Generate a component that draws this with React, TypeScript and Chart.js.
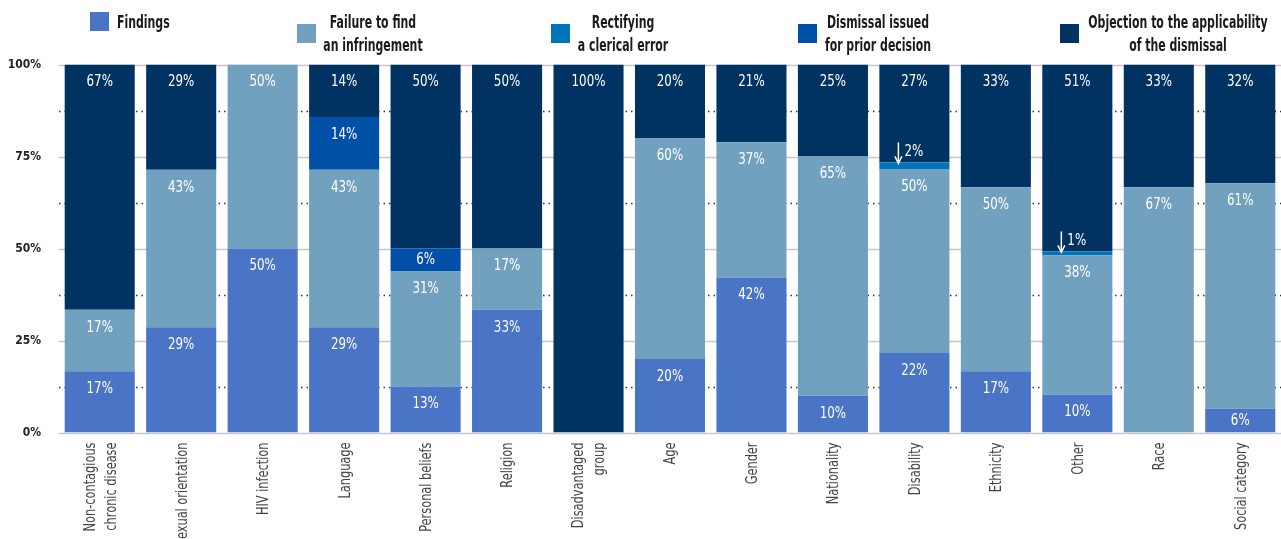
import React, { useEffect, useRef } from 'react';
import { Chart, registerables } from 'chart.js';
Chart.register(...registerables);

const FONT = '"DejaVu Sans Condensed", "Liberation Sans Narrow", "Noto Sans", sans-serif';

const categories: (string | string[])[] = [
  ['Non-contagious', 'chronic disease'], 'Sexual orientation', 'HIV infection', 'Language',
  'Personal beliefs', 'Religion', ['Disadvantaged', 'group'], 'Age', 'Gender', 'Nationality',
  'Disability', 'Ethnicity', 'Other', 'Race', 'Social category',
];
const findings = [16.67, 28.57, 50, 28.57, 12.5, 33.33, 0, 20, 42.1, 10, 21.6, 16.67, 10.3, 0, 6.45];
const failure = [16.67, 42.86, 50, 42.86, 31.25, 16.67, 0, 60, 36.8, 65, 50, 50, 37.8, 66.67, 61.3];
const rectifying = [0, 0, 0, 0, 0, 0, 0, 0, 0, 0, 1.8, 0, 1.1, 0, 0];
const dismissal = [0, 0, 0, 14.29, 6.25, 0, 0, 0, 0, 0, 0, 0, 0, 0, 0];
const objection = [66.66, 28.57, 0, 14.28, 50, 50, 100, 20, 21.1, 25, 26.6, 33.33, 50.8, 33.33, 32.25];
const yTicks = [0, 25, 50, 75, 100];
const dottedTicks = [12.5, 37.5, 62.5, 87.5];

const seriesNames = [
  ['Findings'],
  ['Failure to find', 'an infringement'],
  ['Rectifying', 'a clerical error'],
  ['Dismissal issued', 'for prior decision'],
  ['Objection to the applicability', 'of the dismissal'],
];
const colors = ['#4a74c5', '#72a1bf', '#0074bb', '#0050a8', '#003362'];

const gridPlugin = {
  id: 'customGrid',
  beforeDatasetsDraw(chart: any) {
    const { ctx, chartArea, scales } = chart;
    const y = scales.y;
    ctx.save();
    ctx.strokeStyle = '#c8c8c8';
    ctx.lineWidth = 1.5;
    yTicks.forEach((v) => {
      const py = Math.round(y.getPixelForValue(v)) + 0.5;
      ctx.beginPath();
      ctx.moveTo(chartArea.left, py);
      ctx.lineTo(chartArea.right, py);
      ctx.stroke();
    });
    ctx.strokeStyle = '#333';
    ctx.lineWidth = 1.5;
    ctx.setLineDash([1.5, 4]);
    dottedTicks.forEach((v) => {
      const py = Math.round(y.getPixelForValue(v)) + 0.5;
      ctx.beginPath();
      ctx.moveTo(chartArea.left, py);
      ctx.lineTo(chartArea.right, py);
      ctx.stroke();
    });
    ctx.restore();
  },
};

const labelPlugin = {
  id: 'segLabels',
  afterDatasetsDraw(chart: any) {
    const { ctx } = chart;
    ctx.save();
    ctx.font = `15px ${FONT}`;
    ctx.fillStyle = '#ffffff';
    const sq = 0.88;
    chart.data.datasets.forEach((ds: any, di: number) => {
      const meta = chart.getDatasetMeta(di);
      meta.data.forEach((bar: any, i: number) => {
        const v = ds.data[i];
        if (!v) return;
        const top = Math.min(bar.y, bar.base);
        const bottom = Math.max(bar.y, bar.base);
        const txt = Math.round(v) + '%';
        if (v < 3) {
          const ax = bar.x - 16;
          ctx.strokeStyle = '#ffffff';
          ctx.lineWidth = 1.5;
          ctx.beginPath();
          ctx.moveTo(ax, top - 20);
          ctx.lineTo(ax, top);
          ctx.stroke();
          ctx.beginPath();
          ctx.moveTo(ax - 3.5, top - 6);
          ctx.lineTo(ax, top + 1);
          ctx.lineTo(ax + 3.5, top - 6);
          ctx.stroke();
          ctx.save();
          ctx.translate(ax + 6, top - 10);
          ctx.scale(sq, 1);
          ctx.textAlign = 'left';
          ctx.textBaseline = 'middle';
          ctx.fillText(txt, 0, 0);
          ctx.restore();
          return;
        }
        const ly = Math.min(top + 18, (top + bottom) / 2);
        ctx.save();
        ctx.translate(bar.x, ly);
        ctx.scale(sq, 1);
        ctx.textAlign = 'center';
        ctx.textBaseline = 'middle';
        ctx.fillText(txt, 0, 0);
        ctx.restore();
      });
    });
    ctx.restore();
  },
};

// x-axis category labels, drawn rotated at the tick positions of the x scale
const xLabelPlugin = {
  id: 'xLabels',
  afterDraw(chart: any) {
    const { ctx, chartArea, scales } = chart;
    const xs = scales.x;
    ctx.save();
    ctx.font = `300 15px ${FONT}`;
    ctx.fillStyle = '#444';
    ctx.textAlign = 'right';
    ctx.textBaseline = 'middle';
    const squeeze = 89 / ctx.measureText('Non-contagious').width;
    const top = chartArea.bottom + 10;
    (chart.data.labels as any[]).forEach((lab, i) => {
      const lines = Array.isArray(lab) ? lab : [lab];
      const cx = xs.getPixelForTick(i) + 1.5;
      ctx.save();
      ctx.translate(cx, top);
      ctx.rotate(-Math.PI / 2);
      ctx.scale(squeeze, 1);
      const gap = 21;
      lines.forEach((l: string, j: number) => {
        const off = (j - (lines.length - 1) / 2) * gap;
        ctx.fillText(l, 0, off);
      });
      ctx.restore();
    });
    ctx.restore();
  },
};

const legendPos = [
  { box: [90, 12], text: 117, center: false, y: 22 },
  { box: [297, 24], text: 373, center: true, y: 22.5 },
  { box: [551, 24], text: 623, center: true, y: 22.5 },
  { box: [798, 24], text: 878, center: true, y: 22.5 },
  { box: [1060, 24], text: 1178, center: true, y: 22.5 },
];

export default function App() {
  const ref = useRef<HTMLCanvasElement>(null);
  useEffect(() => {
    if (!ref.current) return;
    const data = [findings, failure, rectifying, dismissal, objection];
    const chart = new Chart(ref.current, {
      type: 'bar',
      data: {
        labels: categories,
        datasets: data.map((d, i) => ({
          label: seriesNames[i].join(' '),
          data: d,
          backgroundColor: colors[i],
          borderWidth: 0,
          barPercentage: 0.86,
          categoryPercentage: 1,
        })),
      },
      options: {
        animation: false,
        responsive: false,
        maintainAspectRatio: false,
        layout: { padding: { top: 64.5, right: 0, left: 0, bottom: 0 } },
        plugins: { legend: { display: false }, tooltip: { enabled: false } },
        scales: {
          x: {
            stacked: true,
            grid: { display: false, drawTicks: false },
            border: { display: false },
            ticks: { display: false, autoSkip: false },
            afterFit: (s: any) => { s.height = 106.5; },
          },
          y: {
            stacked: true,
            min: 0,
            max: 100,
            grid: { display: false, drawTicks: false },
            border: { display: false },
            ticks: {
              stepSize: 25,
              color: '#222',
              font: { family: FONT, size: 12, weight: 'bold' },
              padding: 18,
              callback: (v: any) => v + '%',
            },
            afterFit: (s: any) => { s.width = 59; },
          },
        },
      },
      plugins: [gridPlugin, labelPlugin, xLabelPlugin],
    });
    return () => chart.destroy();
  }, []);

  return (
    <div style={{ position: 'fixed', left: 0, top: 0, width: 1281, height: 539, background: '#fff', overflow: 'hidden' }}>
      <canvas ref={ref} width={1281} height={539} style={{ position: 'absolute', left: 0, top: 0 }} />
      {seriesNames.map((lines, i) => {
        const p = legendPos[i];
        return (
          <React.Fragment key={i}>
            <div style={{ position: 'absolute', left: p.box[0], top: p.box[1], width: 19, height: 19, background: colors[i] }} />
            <div
              style={{
                position: 'absolute',
                left: p.center ? p.text - 150 : p.text,
                width: p.center ? 300 : 200,
                top: p.y - 11.5,
                textAlign: p.center ? 'center' : 'left',
                fontFamily: FONT,
                fontWeight: 'bold',
                fontSize: 17,
                lineHeight: '23px',
                color: '#1a1a1a',
                whiteSpace: 'nowrap',
                transform: 'scaleX(0.715)',
                transformOrigin: p.center ? 'center' : 'left',
              }}
            >
              {lines.map((l, j) => (<div key={j}>{l}</div>))}
            </div>
          </React.Fragment>
        );
      })}
    </div>
  );
}
